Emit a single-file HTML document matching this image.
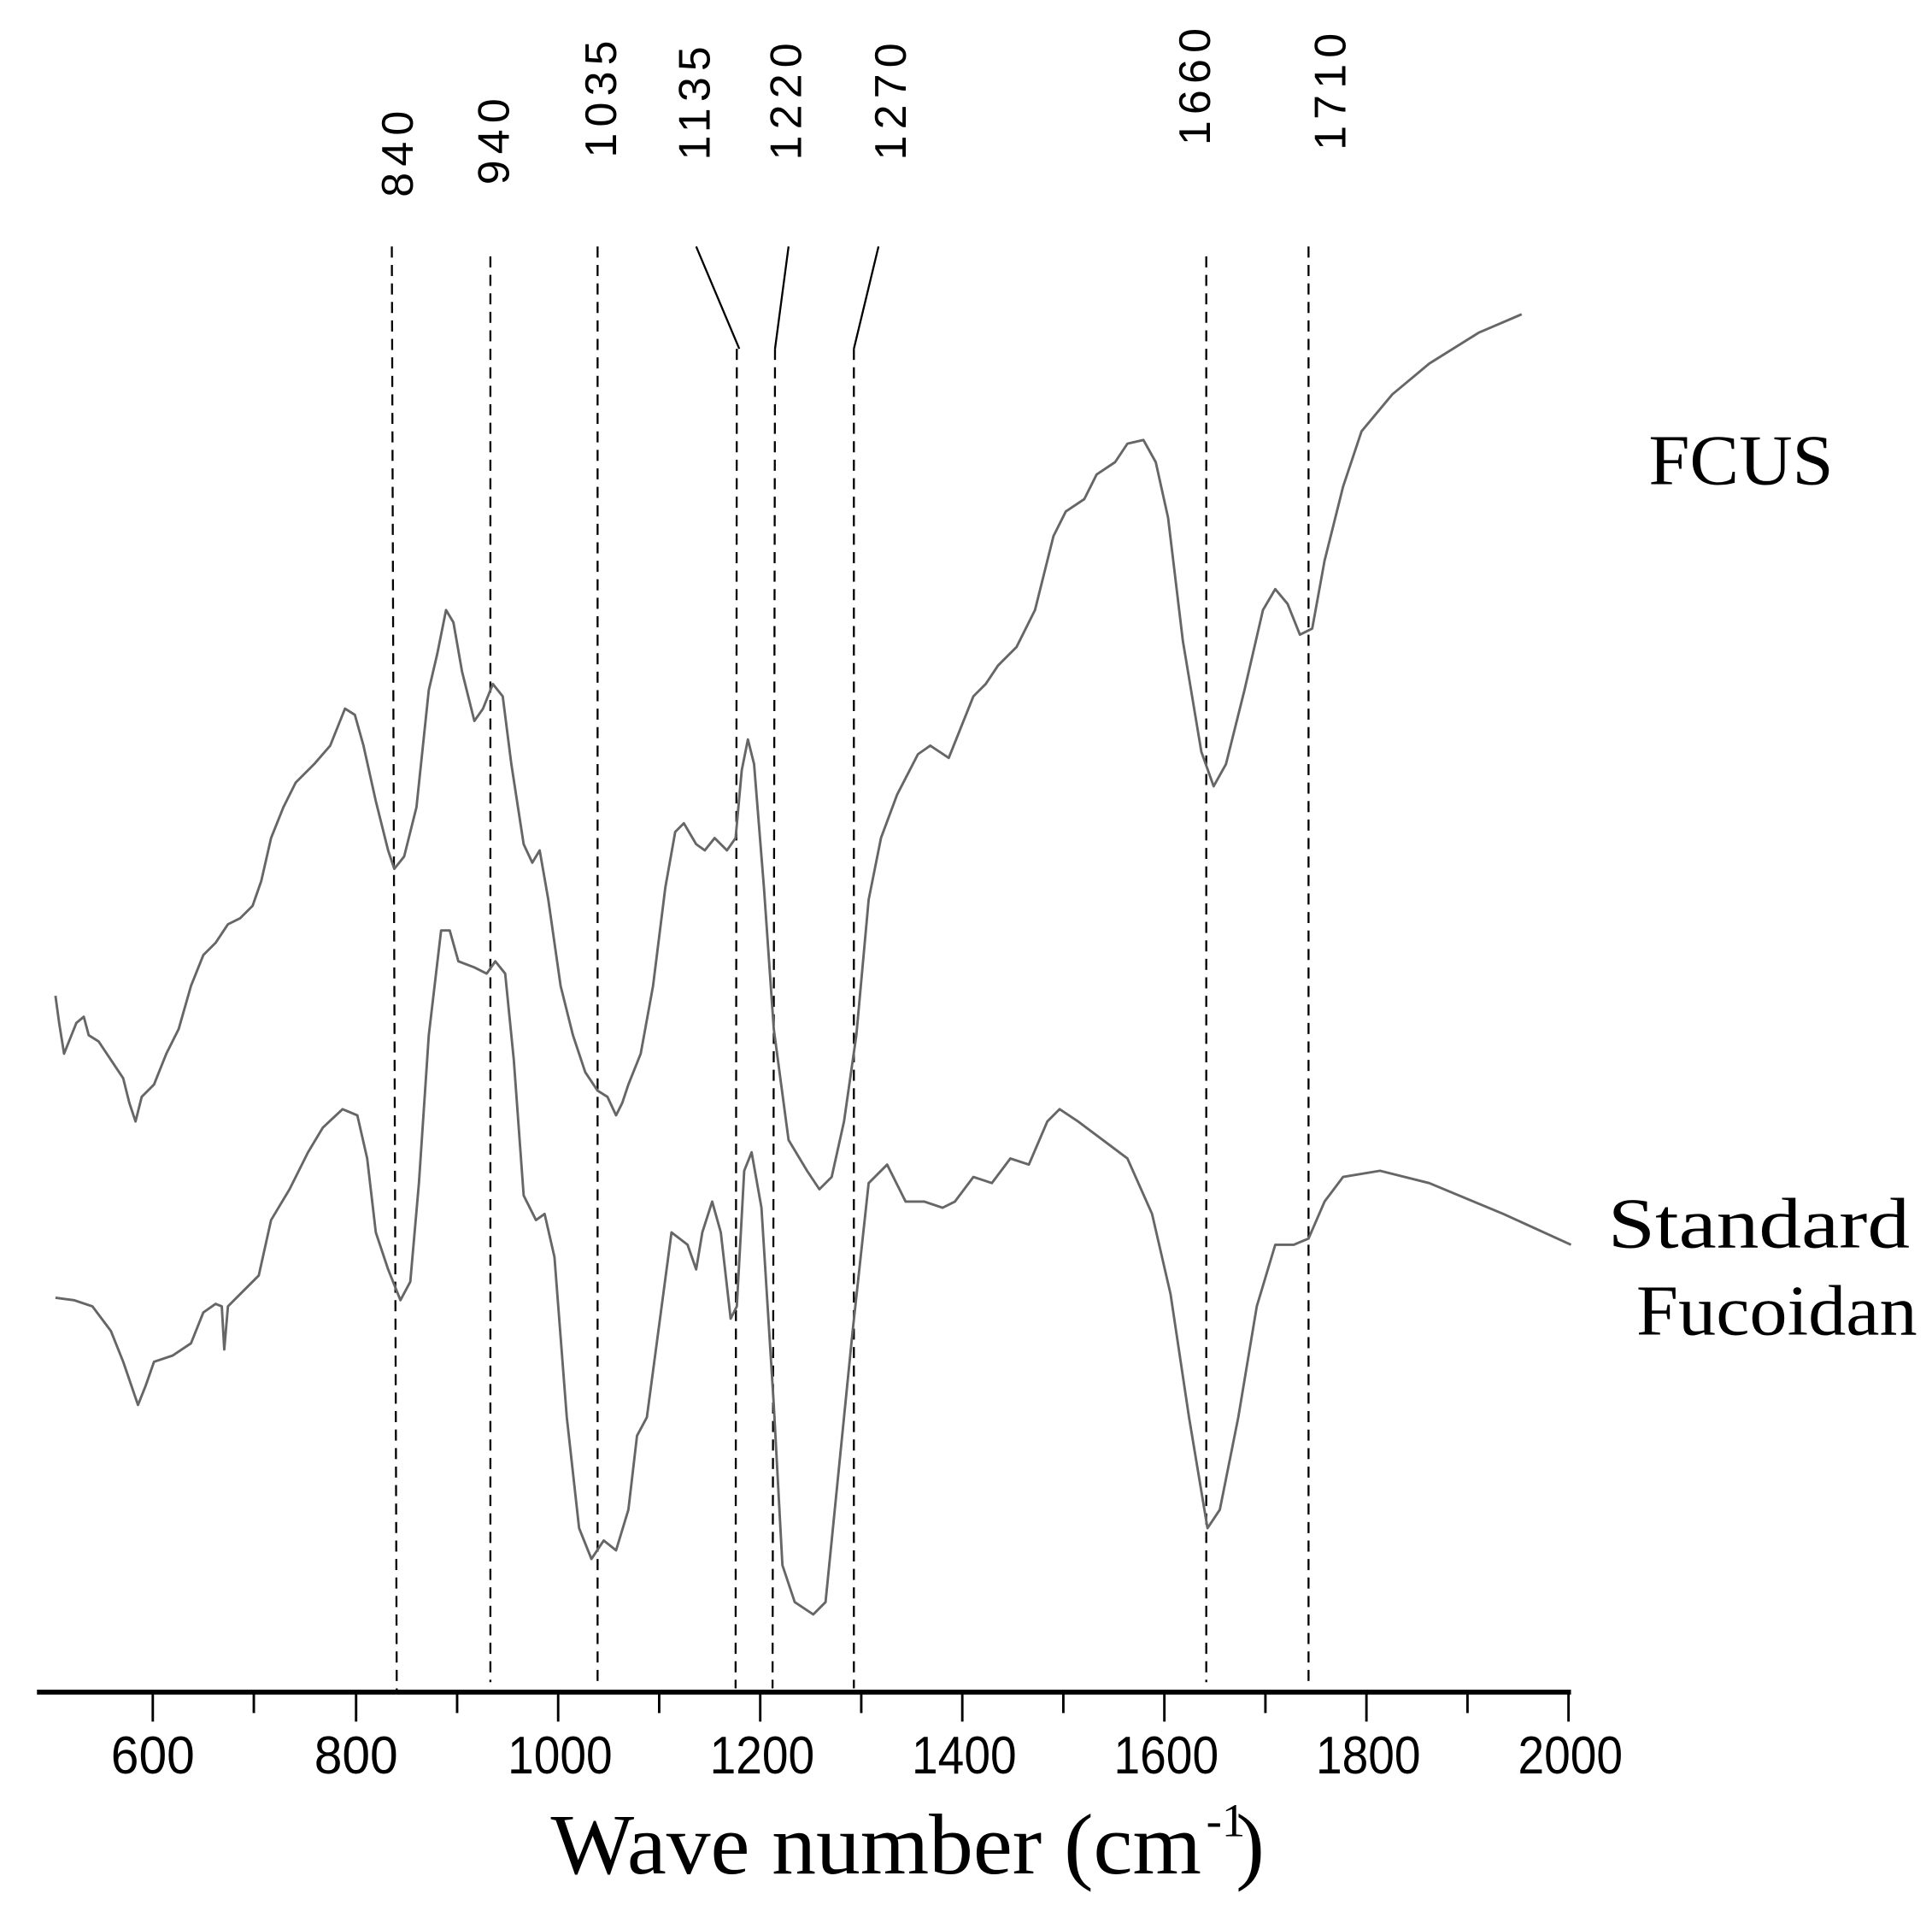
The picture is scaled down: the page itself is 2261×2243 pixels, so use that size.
<!DOCTYPE html>
<html><head><meta charset="utf-8"><style>html,body{margin:0;padding:0;background:#fff}svg{display:block}</style></head>
<body>
<svg width="2261" height="2243" viewBox="0 0 1568 1555.5" xmlns="http://www.w3.org/2000/svg">
<rect width="1568" height="1556" fill="#fff"/>
<g font-family="Liberation Sans, sans-serif" font-size="36" fill="#000" letter-spacing="5">
<text transform="translate(335,160) rotate(-90)">840</text>
<text transform="translate(413,150) rotate(-90)">940</text>
<text transform="translate(500,128) rotate(-90)">1035</text>
<text transform="translate(576,130) rotate(-90)">1135</text>
<text transform="translate(650,130) rotate(-90)">1220</text>
<text transform="translate(735,130) rotate(-90)">1270</text>
<text transform="translate(982,118) rotate(-90)">1660</text>
<text transform="translate(1092,122) rotate(-90)">1710</text>
</g>
<g stroke="#000" stroke-width="1.6" fill="none">
<path d="M565,200 L600,283 M640,200 L629,283 M713,200 L693,283"/>
<g stroke-dasharray="9,6">
<path d="M318,200 L322,1372"/>
<path d="M398,208 L398,1365"/>
<path d="M485,200 L485,1365"/>
<path d="M598,283 L597,1370"/>
<path d="M629,283 L627,1370"/>
<path d="M693,283 L693,1370"/>
<path d="M979,208 L979,1365"/>
<path d="M1062,200 L1062,1365"/>
</g>
</g>
<g stroke="#666" stroke-width="2" fill="none" stroke-linejoin="round">
<polyline points="45,808 48,830 52,855 58,840 62,830 68,825 72,840 80,845 90,860 100,875 105,895 110,910 115,890 125,880 135,855 145,835 155,800 165,775 175,765 185,750 195,745 205,735 212,715 220,680 230,655 240,635 255,620 268,605 280,575 288,580 295,605 305,650 315,690 320,705 328,695 338,655 348,560 355,530 362,495 368,505 375,545 385,585 392,575 400,555 408,565 415,620 425,685 432,700 438,690 445,730 455,800 465,840 475,870 485,885 493,890 500,905 505,895 510,880 520,855 530,800 540,720 548,675 555,668 565,685 572,690 580,680 590,690 597,680 602,625 607,600 612,620 620,720 628,835 640,925 655,950 665,965 675,955 685,910 695,840 705,730 715,680 728,645 745,612 755,605 770,615 790,565 800,555 810,540 825,525 840,495 855,435 865,415 880,405 890,385 905,375 915,360 928,357 938,375 948,420 960,520 975,610 985,638 995,620 1010,560 1025,495 1035,478 1045,490 1055,515 1065,510 1075,455 1090,395 1105,350 1130,320 1160,295 1200,270 1235,255"/>
<polyline points="45,1053 60,1055 75,1060 90,1080 100,1105 112,1140 118,1125 125,1105 140,1100 155,1090 165,1065 175,1058 180,1060 182,1095 185,1060 195,1050 210,1035 220,990 235,965 250,935 262,915 278,900 290,905 298,940 305,1000 315,1030 325,1055 333,1040 340,960 348,840 358,755 365,755 372,780 385,785 395,790 402,780 410,790 417,860 425,970 435,990 442,985 450,1020 460,1150 470,1240 480,1265 490,1250 500,1258 510,1225 517,1165 525,1150 535,1075 545,1000 558,1010 565,1030 570,1000 578,975 585,1000 593,1070 598,1060 604,950 610,935 618,980 628,1140 635,1270 645,1300 660,1310 670,1300 680,1200 692,1080 705,960 720,945 735,975 750,975 765,980 775,975 790,955 805,960 820,940 835,945 850,910 860,900 875,910 895,925 915,940 935,985 950,1050 965,1150 980,1240 990,1225 1005,1150 1020,1060 1035,1010 1050,1010 1062,1005 1075,975 1090,955 1120,950 1160,960 1220,985 1275,1010"/>
</g>
<g stroke="#000" fill="none">
<line x1="30" y1="1373" x2="1275" y2="1373" stroke-width="4"/>
<path stroke-width="2" d="M124,1373v24 M289,1373v24 M453,1373v24 M617,1373v24 M781,1373v24 M945,1373v24 M1109,1373v24 M1273,1373v24 M206,1373v17 M371,1373v17 M535,1373v17 M699,1373v17 M863,1373v17 M1027,1373v17 M1191,1373v17"/>
</g>
<g font-family="Liberation Sans, sans-serif" font-size="43" fill="#000">
<text x="90" y="1439" textLength="68" lengthAdjust="spacingAndGlyphs">600</text>
<text x="255" y="1439" textLength="68" lengthAdjust="spacingAndGlyphs">800</text>
<text x="412" y="1439" textLength="85" lengthAdjust="spacingAndGlyphs">1000</text>
<text x="576" y="1439" textLength="85" lengthAdjust="spacingAndGlyphs">1200</text>
<text x="740" y="1439" textLength="85" lengthAdjust="spacingAndGlyphs">1400</text>
<text x="904" y="1439" textLength="85" lengthAdjust="spacingAndGlyphs">1600</text>
<text x="1068" y="1439" textLength="85" lengthAdjust="spacingAndGlyphs">1800</text>
<text x="1232" y="1439" textLength="85" lengthAdjust="spacingAndGlyphs">2000</text>
</g>
<text x="447" y="1520" font-family="Liberation Serif, serif" font-size="70" textLength="528" lengthAdjust="spacingAndGlyphs">Wave number (cm</text>
<text x="979" y="1490" font-family="Liberation Serif, serif" font-size="38">-1</text>
<text x="1003" y="1520" font-family="Liberation Serif, serif" font-size="70">)</text>
<g font-family="Liberation Serif, serif" font-size="58" fill="#000">
<text x="1338" y="393" textLength="150" lengthAdjust="spacingAndGlyphs">FCUS</text>
<text x="1305" y="1012" textLength="245" lengthAdjust="spacingAndGlyphs">Standard</text>
<text x="1328" y="1083" textLength="228" lengthAdjust="spacingAndGlyphs">Fucoidan</text>
</g>
</svg>
</body></html>
